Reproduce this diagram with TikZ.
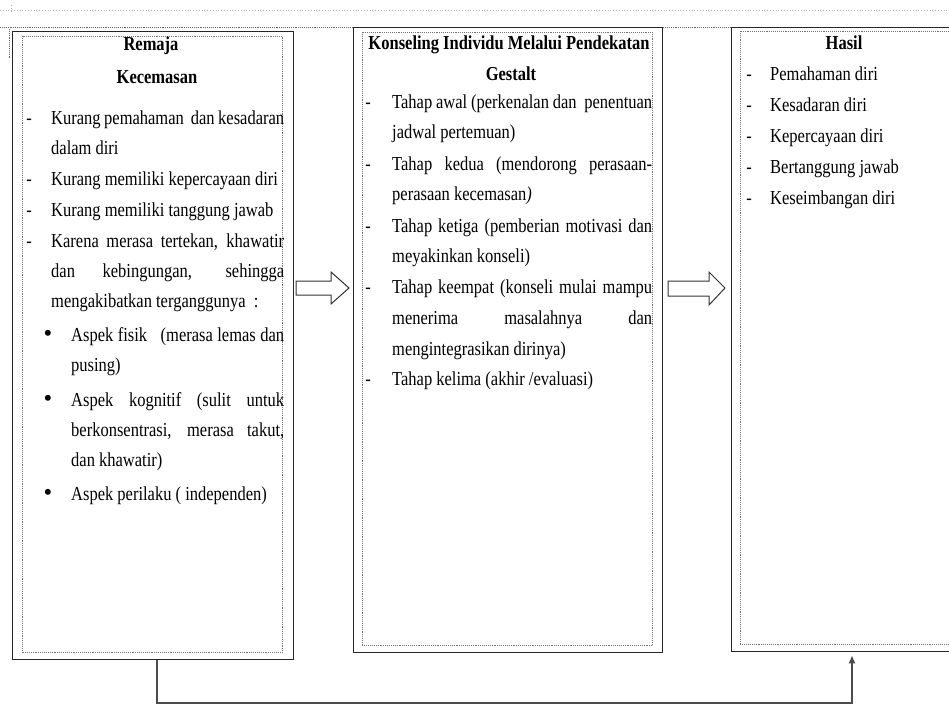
\documentclass[tikz,border=0pt]{standalone}
\usepackage{graphicx}
\usepackage{fontspec}
\setmainfont{Liberation Serif}
\usetikzlibrary{calc,arrows.meta}

\newcommand{\isi}{\fontsize{16.5}{20}\selectfont}
% huruf sedikit ditinggikan
\newcommand{\tl}[1]{\scalebox{1}[1.2]{#1}}

\tikzset{
  kotak/.style={draw=black!85, line width=1.3pt, fill=white, anchor=north west, inner sep=0pt},
  bingkai/.style={draw=black!55, densely dotted, line width=0.9pt},
  baris/.style={anchor=base west, inner sep=0pt, font=\isi},
  judul/.style={anchor=base, inner sep=0pt, font=\isi\bfseries},
  tanda/.style={anchor=base, inner sep=0pt, font=\isi},
  garis/.style={draw=black!70, line width=1.2pt},
  panah/.style={draw=black!80, line width=1pt, fill=white}
}

\begin{document}
\begin{tikzpicture}[x=1pt,y=-1pt]
\useasboundingbox (0,0) rectangle (949,717);
% garis titik-titik di atas
\draw[black!30, dotted, line width=0.8pt] (0,10) -- (949,10);
\draw[black!30, dotted, line width=0.8pt] (11,5) -- (11,12);
\draw[black!60, densely dotted, line width=0.9pt] (0,27) -- (949,27);
\draw[black!60, densely dotted, line width=0.9pt] (9,29) -- (9,59);

% tiga kotak
\node[kotak, minimum width=281pt, minimum height=628pt] (kiri) at (12,31) {};
\node[kotak, minimum width=309pt, minimum height=625pt] (tengah) at (353,27) {};
\node[kotak, minimum width=260pt, minimum height=624pt] (kanan) at (731,27) {};
\draw[bingkai] ($(kiri.north west)+(10,5)$) rectangle ($(kiri.south east)+(-12,-8)$);
\draw[bingkai] ($(tengah.north west)+(9,5)$) rectangle ($(tengah.south east)+(-11,-8)$);
\draw[bingkai] ($(kanan.north west)+(9,4)$) rectangle ($(kanan.south east)+(-43,-8)$);

% kotak kiri
\node[judul] (remaja) at (151,51) {\tl{Remaja}};
\node[judul] (cemas) at (157,83) {\tl{Kecemasan}};
\foreach \y in {124,185,216,247}
\node[tanda] at (29,\y) {\tl{-}};
\foreach \y in {341,406,500}
\node[tanda] at (48,\y) {\scalebox{1.5}{\textbullet}};
\node[baris] (k1) at (51,124) {\tl{\makebox[233pt][s]{Kurang pemahaman\ \ dan kesadaran}}};
\node[baris] (k2) at (51,154) {\tl{dalam diri}};
\node[baris] (k3) at (51,185) {\tl{Kurang memiliki kepercayaan diri}};
\node[baris] (k4) at (51,216) {\tl{Kurang memiliki tanggung jawab}};
\node[baris] (k5) at (51,247) {\tl{\makebox[233pt][s]{Karena merasa tertekan, khawatir}}};
\node[baris] (k6) at (51,277) {\tl{\makebox[233pt][s]{dan kebingungan, sehingga}}};
\node[baris] (k7) at (51,307) {\tl{mengakibatkan terganggunya\ \ :}};
\node[baris] (k8) at (71,341) {\tl{\makebox[213pt][s]{Aspek fisik\ \ \ (merasa lemas dan}}};
\node[baris] (k9) at (71,371) {\tl{pusing)}};
\node[baris] (k10) at (71,406) {\tl{\makebox[213pt][s]{Aspek kognitif (sulit untuk}}};
\node[baris] (k11) at (71,436) {\tl{\makebox[213pt][s]{berkonsentrasi, merasa takut,}}};
\node[baris] (k12) at (71,466) {\tl{dan khawatir)}};
\node[baris] (k13) at (71,500) {\tl{Aspek perilaku ( independen)}};

% kotak tengah
\node[judul] (konseling) at (509,49) {\tl{Konseling Individu Melalui Pendekatan}};
\node[judul] (gestalt) at (511,80) {\tl{Gestalt}};
\foreach \y in {108,170,232,293,385}
\node[tanda] at (368,\y) {\tl{-}};
\node[baris] (t1) at (392,108) {\tl{\makebox[260pt][s]{Tahap awal (perkenalan dan\ \ penentuan}}};
\node[baris] (t2) at (392,138) {\tl{jadwal pertemuan)}};
\node[baris] (t3) at (392,170) {\tl{\makebox[260pt][s]{Tahap kedua (mendorong perasaan-}}};
\node[baris] (t4) at (392,200) {\tl{perasaan kecemasan\textit{)}}};
\node[baris] (t5) at (392,232) {\tl{\makebox[260pt][s]{Tahap ketiga (pemberian motivasi dan}}};
\node[baris] (t6) at (392,262) {\tl{meyakinkan konseli)}};
\node[baris] (t7) at (392,293) {\tl{\makebox[260pt][s]{Tahap keempat (konseli mulai mampu}}};
\node[baris] (t8) at (392,324) {\tl{\makebox[260pt][s]{menerima masalahnya dan}}};
\node[baris] (t9) at (392,355) {\tl{mengintegrasikan dirinya)}};
\node[baris] (t10) at (392,385) {\tl{Tahap kelima (akhir /evaluasi)}};

% kotak kanan
\node[judul] (hasil) at (844,49) {\tl{Hasil}};
\foreach \teks [count=\i] in {Pemahaman diri, Kesadaran diri, Kepercayaan diri, Bertanggung jawab, Keseimbangan diri}
{
\node[tanda] at (749,{49+31*\i}) {\tl{-}};
\node[baris] (h\i) at (770,{49+31*\i}) {\tl{\teks}};
}

% panah blok
\draw[panah] (296,281) -- (331,281) -- (331,272) -- (349,288) -- (331,304) -- (331,295) -- (296,295) -- cycle;
\draw[panah] (668,281) -- (709,281) -- (709,272) -- (725,288) -- (709,305) -- (709,296) -- (668,296) -- cycle;

% garis balik ke hasil
\coordinate (belok) at (157,703);
\coordinate (ujung) at (852,703);
\draw[garis, -{Latex[length=8pt,width=7pt]}, shorten >=3pt] (belok |- kiri.south) -- (belok) -- (ujung) -- (ujung |- kanan.south);
\end{tikzpicture}
\end{document}
